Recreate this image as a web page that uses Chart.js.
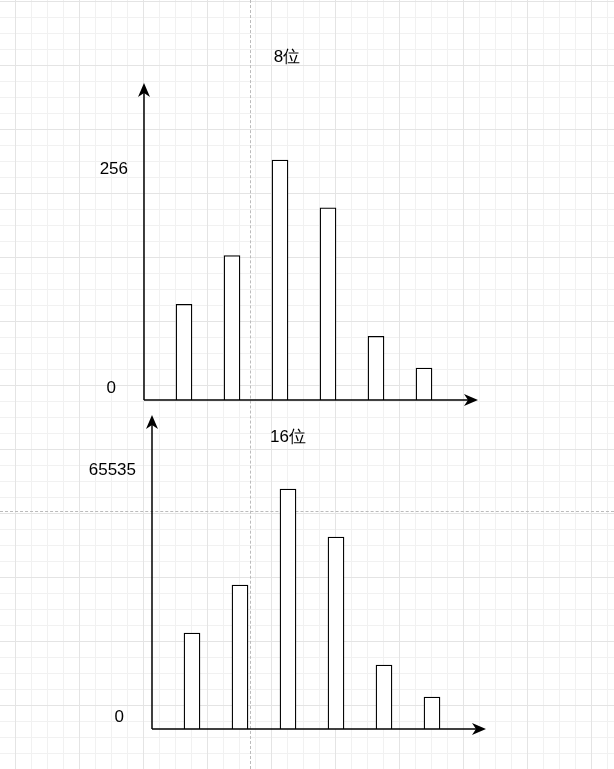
<!DOCTYPE html>
<html>
<head>
<meta charset="UTF-8">
<script src="https://cdn.jsdelivr.net/npm/chart.js"></script>
<style>
  body { margin:0; width:614px; height:769px; overflow:hidden; position:relative;
    background-color:#fff;
    background-image:
      linear-gradient(#e4e4e4 1px, transparent 1px),
      linear-gradient(90deg, #e4e4e4 1px, transparent 1px),
      linear-gradient(#f1f1f1 1px, transparent 1px),
      linear-gradient(90deg, #f1f1f1 1px, transparent 1px);
    background-size:64px 64px,64px 64px,16px 16px,16px 16px;
    background-position:15px 1px,15px 1px,15px 1px,15px 1px; }
  .dash-v { position:absolute; left:250px; top:0; height:769px; border-left:1px dashed #bbb; }
  .dash-h { position:absolute; top:511px; left:0; width:614px; border-top:1px dashed #bbb; }
  .box { position:absolute; }
</style>
</head>
<body>
<div class="dash-v"></div>
<div class="dash-h"></div>
<div class="box" style="left:0;top:30px;width:614px;height:390px"><canvas id="c8"></canvas></div>
<div class="box" style="left:0;top:410px;width:614px;height:340px"><canvas id="c16"></canvas></div>
<script>
const categories = ['A', 'B', 'C', 'D', 'E', 'F'];
const values8 = [102, 154, 256, 205, 68, 34];
const values16 = [26214, 39321, 65535, 52428, 17476, 8738];
const ticks8 = ['0', '256'];
const ticks16 = ['0', '65535'];

const font = '17px "Liberation Sans", Arial, sans-serif';

function makeChart(id, values, max, tickLabels, title, L) {
  const arrows = {
    id: 'arrows',
    afterDraw(chart) {
      const c = chart.ctx, x = chart.scales.x, y = chart.scales.y;
      const x0 = x.left - 16, y0 = y.bottom;
      c.save();
      c.strokeStyle = '#000'; c.fillStyle = '#000'; c.lineWidth = 1.5;
      c.beginPath(); c.moveTo(x0, y0); c.lineTo(x0, L.arrowTop + 8); c.stroke();
      c.beginPath(); c.moveTo(x0, y0); c.lineTo(L.arrowRight - 8, y0); c.stroke();
      c.beginPath(); c.moveTo(x0, L.arrowTop); c.lineTo(x0 - 6, L.arrowTop + 14);
      c.lineTo(x0, L.arrowTop + 10); c.lineTo(x0 + 6, L.arrowTop + 14); c.closePath(); c.fill();
      c.beginPath(); c.moveTo(L.arrowRight, y0); c.lineTo(L.arrowRight - 14, y0 - 6);
      c.lineTo(L.arrowRight - 10, y0); c.lineTo(L.arrowRight - 14, y0 + 6); c.closePath(); c.fill();
      c.font = font; c.textAlign = 'right'; c.textBaseline = 'middle';
      c.fillText(tickLabels[0], x0 - 28, y.getPixelForValue(0) - 12);
      c.fillText(tickLabels[1], x0 - 16, y.getPixelForValue(max) + L.maxOff);
      c.textAlign = 'center';
      c.fillText(title, L.titleX, L.titleY);
      c.restore();
    }
  };
  return new Chart(document.getElementById(id), {
    type: 'bar',
    data: { labels: categories, datasets: [{ data: values, backgroundColor: '#fff',
      borderColor: '#000', borderWidth: 1.3, barThickness: 16 }] },
    options: {
      responsive: true, maintainAspectRatio: false, animation: false,
      layout: { padding: L.pad },
      plugins: { legend: { display: false }, tooltip: { enabled: false } },
      scales: {
        x: { display: false, offset: true },
        y: { display: false, min: 0, max: max * L.ext }
      }
    },
    plugins: [arrows]
  });
}

makeChart('c8', values8, 256, ticks8, '8位',
  { pad: { left: 160, right: 166, top: 0, bottom: 20 }, ext: 370 / 240,
    arrowTop: 53, arrowRight: 478, maxOff: 9, titleX: 287, titleY: 27 });
makeChart('c16', values16, 65535, ticks16, '16位',
  { pad: { left: 168, right: 158, top: 0, bottom: 21 }, ext: 319 / 240,
    arrowTop: 5, arrowRight: 486, maxOff: -19, titleX: 288, titleY: 27 });
</script>
</body>
</html>
